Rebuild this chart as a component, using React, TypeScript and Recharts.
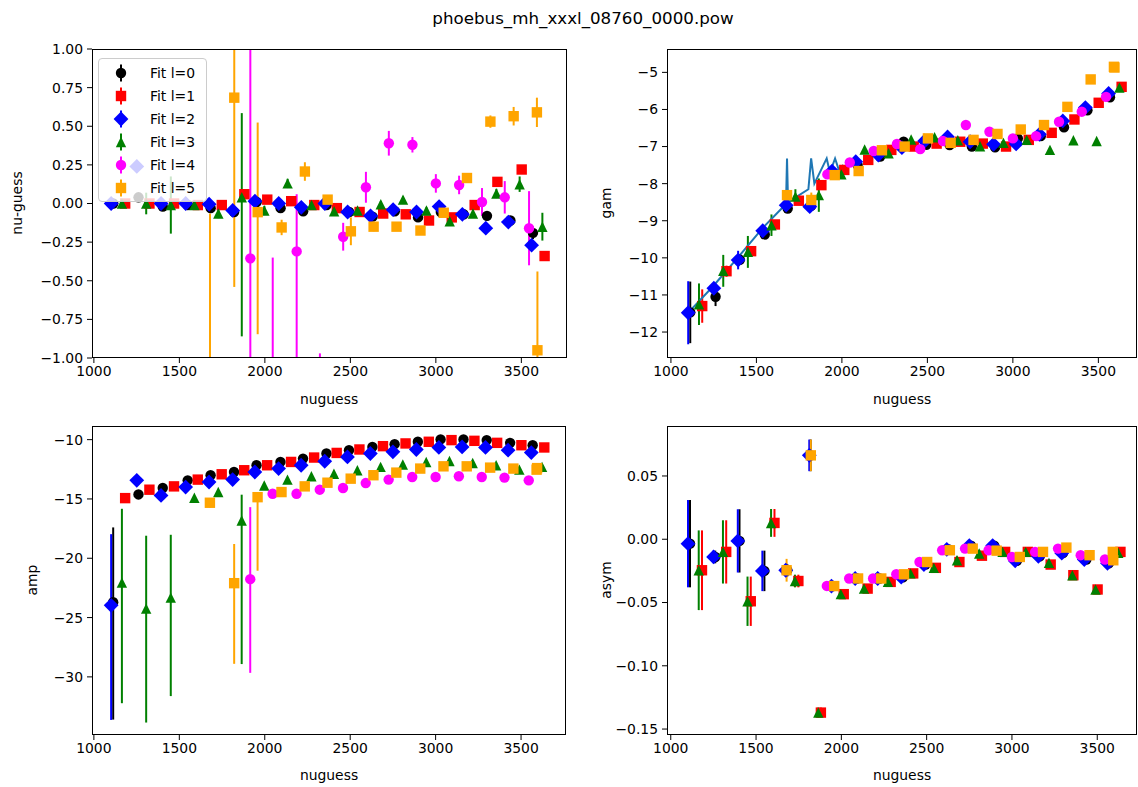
import React from 'react';
import { ScatterChart, Scatter, XAxis, YAxis, ErrorBar } from 'recharts';

const FONT = '"DejaVu Sans", sans-serif';

// nuguess of each fitted mode, one list per degree l
const nuL0 = [1113, 1261, 1403, 1549, 1683, 1820, 1952, 2092, 2224, 2361, 2493, 2630, 2760, 2896, 3029, 3163, 3299, 3436, 3568];
const nuL1 = [1183, 1325, 1469, 1608, 1748, 1880, 2014, 2154, 2289, 2421, 2554, 2692, 2824, 2960, 3093, 3227, 3360, 3502, 3636];
const nuL2 = [1101, 1251, 1393, 1537, 1674, 1812, 1942, 2081, 2213, 2351, 2484, 2618, 2750, 2887, 3019, 3155, 3292, 3424, 3560];
const nuL3 = [1164, 1306, 1450, 1588, 1728, 1865, 1997, 2133, 2273, 2405, 2542, 2678, 2808, 2945, 3081, 3217, 3354, 3490, 3623];
const nuL4 = [1915, 2046, 2186, 2322, 2458, 2591, 2725, 2863, 3000, 3136, 3270, 3403, 3545];
const nuL5 = [1679, 1821, 1958, 2098, 2234, 2367, 2503, 2636, 2770, 2910, 3046, 3182, 3319, 3455, 3591, 3594];

// nu - guess
const dnuL0 = [0.0, 0.04, -0.02, -0.01, -0.03, -0.055, 0.01, -0.03, -0.05, -0.01, -0.055, -0.085, -0.05, -0.09, -0.055, -0.07, -0.08, -0.11, -0.19];
const dnuErrL0 = [0.02, 0.02, 0.01, 0.01, 0.01, 0.01, 0.01, 0.01, 0.01, 0.01, 0.01, 0.01, 0.01, 0.01, 0.01, 0.01, 0.01, 0.02, 0.04];
const dnuL1 = [0.0, 0.0, 0.0, -0.01, -0.01, 0.06, 0.025, 0.015, -0.01, -0.03, -0.055, -0.065, -0.07, -0.11, -0.09, -0.01, 0.14, 0.22, -0.34];
const dnuErrL1 = [0.01, 0.01, 0.01, 0.01, 0.01, 0.03, 0.01, 0.02, 0.01, 0.01, 0.01, 0.01, 0.01, 0.01, 0.01, 0.02, 0.02, 0.02, 0.03];
const dnuL2 = [0.0, 0.24, 0.0, 0.0, -0.005, -0.045, 0.015, 0.0, -0.025, 0.0, -0.055, -0.08, -0.04, -0.055, -0.02, -0.07, -0.16, -0.12, -0.27];
const dnuErrL2 = [0.02, 0.01, 0.01, 0.01, 0.01, 0.01, 0.01, 0.01, 0.01, 0.01, 0.01, 0.01, 0.01, 0.01, 0.01, 0.01, 0.01, 0.01, 0.02];
const dnuL3 = [0.0, 0.0, -0.01, -0.01, -0.065, 0.04, -0.045, 0.13, -0.01, -0.05, -0.045, -0.005, 0.025, -0.045, -0.115, -0.065, 0.065, 0.125, -0.15];
const dnuErrL3 = [0.02, 0.07, 0.185, 0.02, 0.03, [0.9, 0.545], 0.03, 0.03, 0.02, 0.02, 0.02, 0.02, 0.02, 0.02, 0.02, 0.02, 0.03, 0.05, 0.09];
const dnuL4 = [-0.355, -1.5, -0.31, -1.6, -0.215, 0.105, 0.39, 0.38, 0.13, 0.12, 0.01, 0.04, -0.16];
const dnuErrL4 = [1.5, 1.15, [1.0, 0.37], 0.63, 0.09, 0.1, 0.08, 0.05, 0.06, 0.06, 0.09, 0.105, 0.24];
const dnuL5 = [-1.6, 0.685, -0.056, -0.155, 0.207, 0.025, -0.18, -0.15, -0.15, -0.175, -0.06, 0.165, 0.53, 0.565, 0.59, -0.95];
const dnuErrL5 = [1.535, 1.225, [0.79, 0.58], 0.05, 0.06, 0.03, 0.09, 0.03, 0.02, 0.02, 0.02, 0.02, 0.04, 0.06, 0.095, 0.51];

// gam
const gamL0 = [-11.47, -11.05, -10.05, -9.37, -8.67, -8.6, -7.75, -7.5, -7.27, -6.87, -6.95, -6.96, -7.0, -7.02, -6.78, -6.72, -6.48, -6.02, -5.67];
const gamErrL0 = [0.83, 0.25, 0.05, 0.05, 0.05, 0.05, 0.03, 0.03, 0.03, 0.03, 0.03, 0.03, 0.03, 0.03, 0.03, 0.03, 0.03, 0.03, 0.03];
const gamL1 = [-11.3, -10.36, -9.82, -9.1, -8.46, -8.04, -7.63, -7.36, -7.09, -7.0, -6.92, -6.87, -6.92, -7.0, -6.82, -6.63, -6.27, -5.82, -5.39];
const gamErrL1 = [0.45, 0.15, 0.1, 0.1, 0.05, 0.05, 0.03, 0.03, 0.03, 0.03, 0.03, 0.03, 0.03, 0.03, 0.03, 0.03, 0.03, 0.03, 0.03];
const gamL2 = [-11.48, -10.82, -10.06, -9.27, -8.58, -8.62, -7.66, -7.41, -7.23, -7.03, -6.85, -6.74, -6.87, -6.94, -6.93, -6.67, -6.31, -5.95, -5.57];
const gamErrL2 = [0.85, 0.1, 0.25, 0.05, 0.05, 0.1, 0.03, 0.03, 0.03, 0.03, 0.03, 0.03, 0.03, 0.03, 0.03, 0.03, 0.03, 0.03, 0.03];
const gamL3 = [-11.25, -10.35, -9.84, -9.12, -8.35, -8.31, -7.75, -7.08, -7.18, -6.81, -6.75, -6.83, -6.99, -6.9, -6.82, -7.09, -6.83, -6.85, -5.41];
const gamErrL3 = [0.56, 0.43, 0.43, 0.29, 0.2, 0.45, 0.05, 0.05, 0.03, 0.03, 0.03, 0.03, 0.03, 0.03, 0.03, 0.03, 0.03, 0.03, 0.03];
const gamL4 = [-7.75, -7.43, -7.12, -6.93, -7.07, -6.85, -6.42, -6.6, -6.78, -6.72, -6.33, -6.06, -5.66];
const gamErrL4 = [0.1, 0.05, 0.05, 0.03, 0.03, 0.03, 0.03, 0.03, 0.03, 0.03, 0.03, 0.03, 0.03];
const gamL5 = [-8.31, -8.44, -7.77, -7.66, -7.1, -7.0, -6.78, -6.9, -6.82, -6.66, -6.54, -6.42, -5.93, -5.19, -4.85, -4.87];
const gamErrL5 = [0.15, 0.2, 0.1, 0.1, 0.03, 0.03, 0.03, 0.03, 0.03, 0.03, 0.03, 0.03, 0.03, 0.03, 0.03, 0.03];

// guess curve drawn in the gam panel
const gamLineNu = [1107, 1244, 1390, 1536, 1673, 1679, 1685, 1804, 1820, 1839, 1911, 1930, 1960, 1980, 2009];
const gamLineVal = [-11.45, -10.78, -10.0, -9.2, -8.55, -7.32, -8.5, -8.15, -7.32, -8.0, -7.32, -7.7, -7.32, -7.6, -7.5];

// amp
const ampL0 = [-23.7, -14.62, -14.08, -13.43, -13.0, -12.73, -12.16, -11.88, -11.6, -11.17, -10.89, -10.61, -10.38, -10.18, -9.98, -9.98, -10.04, -10.27, -10.47];
const ampErrL0 = [[9.9, 6.3], 0.1, 0.1, 0.1, 0.1, 0.1, 0.1, 0.1, 0.1, 0.1, 0.1, 0.1, 0.1, 0.1, 0.1, 0.1, 0.1, 0.1, 0.1];
const ampL1 = [-14.93, -14.22, -13.94, -13.37, -12.92, -12.58, -12.16, -11.88, -11.51, -11.12, -10.83, -10.55, -10.32, -10.18, -10.04, -10.1, -10.27, -10.47, -10.66];
const ampErrL1 = [0.2, 0.1, 0.1, 0.1, 0.1, 0.1, 0.1, 0.1, 0.1, 0.1, 0.1, 0.1, 0.1, 0.1, 0.1, 0.1, 0.1, 0.1, 0.1];
const ampL2 = [-23.97, -13.43, -14.7, -14.0, -13.57, -13.37, -12.73, -12.44, -12.16, -11.82, -11.46, -11.17, -11.03, -10.83, -10.66, -10.61, -10.66, -10.89, -11.09];
const ampErrL2 = [[9.66, 6.0], 0.1, 0.1, 0.1, 0.1, 0.1, 0.1, 0.1, 0.1, 0.1, 0.1, 0.1, 0.1, 0.1, 0.1, 0.1, 0.1, 0.1, 0.1];
const ampL3 = [-22.05, -24.25, -23.32, -14.9, -14.42, -16.82, -13.86, -13.37, -13.09, -12.87, -12.58, -12.3, -12.1, -11.88, -11.8, -11.97, -12.16, -12.53, -12.3];
const ampErrL3 = [[10.17, 6.22], [9.6, 6.15], [8.3, 5.3], 0.1, 0.1, [12.1, 2.18], 0.1, 0.1, 0.1, 0.1, 0.1, 0.1, 0.1, 0.1, 0.1, 0.1, 0.1, 0.1, 0.1];
const ampL4 = [-21.76, -14.56, -14.56, -14.22, -14.08, -13.66, -13.37, -13.15, -13.15, -13.09, -13.15, -13.2, -13.43];
const ampErrL4 = [[7.9, 6.07], 0.1, 0.1, 0.1, 0.1, 0.1, 0.1, 0.1, 0.1, 0.1, 0.1, 0.1, 0.1];
const ampL5 = [-15.32, -22.1, -14.85, -14.42, -13.94, -13.63, -13.29, -13.0, -12.78, -12.44, -12.25, -12.25, -12.36, -12.44, -12.53, -12.4];
const ampErrL5 = [0.4, [6.8, 3.3], [6.2, 0.3], 0.1, 0.1, 0.1, 0.1, 0.1, 0.1, 0.1, 0.1, 0.1, 0.1, 0.1, 0.1, 0.1];

// asym
const asymL0 = [-0.0035, -0.014, -0.0013, -0.025, -0.0245, 0.0663, -0.037, -0.031, -0.031, -0.03, -0.02, -0.008, -0.005, -0.005, -0.017, -0.0135, -0.011, -0.016, -0.019];
const asymErrL0 = [0.0345, 0.005, 0.025, 0.016, 0.005, 0.0125, 0.003, 0.003, 0.003, 0.003, 0.003, 0.003, 0.003, 0.003, 0.003, 0.003, 0.003, 0.003, 0.003];
const asymL1 = [-0.0245, -0.01, -0.049, 0.0129, -0.033, -0.137, -0.0434, -0.039, -0.0337, -0.027, -0.0226, -0.018, -0.013, -0.01, -0.01, -0.02, -0.0284, -0.0397, -0.01];
const asymErrL1 = [0.0315, 0.025, 0.0195, 0.011, 0.005, 0.004, 0.003, 0.003, 0.003, 0.003, 0.003, 0.003, 0.003, 0.003, 0.003, 0.003, 0.003, 0.003, 0.003];
const asymL2 = [-0.0035, -0.014, -0.0013, -0.025, -0.0245, 0.0663, -0.037, -0.031, -0.031, -0.03, -0.02, -0.008, -0.005, -0.005, -0.017, -0.0135, -0.011, -0.016, -0.019];
const asymErrL2 = [0.0345, 0.005, 0.025, 0.016, 0.005, 0.0125, 0.003, 0.003, 0.003, 0.003, 0.003, 0.003, 0.003, 0.003, 0.003, 0.003, 0.003, 0.003, 0.003];
const asymL3 = [-0.0245, -0.01, -0.049, 0.0129, -0.033, -0.137, -0.0434, -0.039, -0.0337, -0.027, -0.0226, -0.0166, -0.0113, -0.01, -0.01, -0.0187, -0.0284, -0.0397, -0.0108];
const asymErrL3 = [0.0315, 0.025, 0.0195, 0.011, 0.005, 0.004, 0.003, 0.003, 0.003, 0.003, 0.003, 0.003, 0.003, 0.003, 0.003, 0.003, 0.003, 0.003, 0.003];
const asymL4 = [-0.0369, -0.031, -0.031, -0.0277, -0.018, -0.0087, -0.0074, -0.0087, -0.014, -0.01, -0.0074, -0.0126, -0.016];
const asymErrL4 = [0.003, 0.003, 0.003, 0.003, 0.003, 0.003, 0.003, 0.003, 0.003, 0.003, 0.003, 0.003, 0.003];
const asymL5 = [-0.0245, 0.0663, -0.037, -0.031, -0.031, -0.0277, -0.018, -0.0087, -0.0074, -0.009, -0.014, -0.01, -0.0066, -0.0126, -0.01, -0.0166];
const asymErrL5 = [0.009, 0.0125, 0.003, 0.003, 0.003, 0.003, 0.003, 0.003, 0.003, 0.003, 0.003, 0.003, 0.003, 0.003, 0.003, 0.003];

const X_TICKS = [1000, 1500, 2000, 2500, 3000, 3500];
const LABELS = ['Fit l=0', 'Fit l=1', 'Fit l=2', 'Fit l=3', 'Fit l=4', 'Fit l=5'];
const COLORS = ['#000000', '#ff0000', '#0000ff', '#008000', '#ff00ff', '#ffa500'];
const KINDS = ['o', 's', 'D', '^', 'o', 's'];
const NU = [nuL0, nuL1, nuL2, nuL3, nuL4, nuL5];

type Err = number | number[];

const minus = (s: string) => s.replace('-', '\u2212');
const fmt2 = (v: number) => minus(v.toFixed(2));
const fmt0 = (v: number) => minus(String(v));

function Marker({ kind, cx, cy, fill }: { kind: string; cx: number; cy: number; fill: string }) {
    if (cx == null || cy == null) return <g />;
    if (kind === 'o') return <circle cx={cx} cy={cy} r={5.2} fill={fill} />;
    if (kind === 's') return <rect x={cx - 5.2} y={cy - 5.2} width={10.4} height={10.4} fill={fill} />;
    if (kind === 'D') {
        return <polygon points={`${cx},${cy - 7.4} ${cx + 7.4},${cy} ${cx},${cy + 7.4} ${cx - 7.4},${cy}`} fill={fill} />;
    }
    return <polygon points={`${cx},${cy - 5.2} ${cx + 5.2},${cy + 5.2} ${cx - 5.2},${cy + 5.2}`} fill={fill} />;
}

// error bars are not clipped by the chart, so cut them at the axis limits
function buildPoints(xs: number[], ys: number[], es: Err[], dom: [number, number]) {
    return xs.map((x, i) => {
        const y = ys[i];
        const e = es[i];
        const [lo, hi] = Array.isArray(e) ? e : [e, e];
        const bottom = Math.max(y - lo, dom[0]);
        const top = Math.min(y + hi, dom[1]);
        const err = bottom > top ? [0, 0] : [y - bottom, top - y];
        return { x, y, e: err };
    });
}

interface PanelProps {
    left: number;
    top: number;
    w: number;
    h: number;
    xDomain: [number, number];
    yDomain: [number, number];
    yTicks: number[];
    fmt: (v: number) => string;
    ys: number[][];
    errs: Err[][];
    line?: { x: number; y: number }[];
}

function Panel({ left, top, w, h, xDomain, yDomain, yTicks, fmt, ys, errs, line }: PanelProps) {
    const tick = { fill: '#000', fontSize: 13.9, fontFamily: FONT };
    return (
        <div style={{ position: 'absolute', left: left - 60, top: top - 10 }}>
            <ScatterChart width={w + 70} height={h + 40} margin={{ top: 10, right: 10, bottom: 0, left: 0 }}>
                <XAxis
                    type="number" dataKey="x" domain={xDomain} ticks={X_TICKS} allowDataOverflow interval={0}
                    axisLine={false} tickLine={{ stroke: '#000' }} tickSize={5} tickMargin={3} height={30} tick={tick}
                />
                <YAxis
                    type="number" dataKey="y" domain={yDomain} ticks={yTicks} allowDataOverflow interval={0}
                    axisLine={false} tickLine={{ stroke: '#000' }} tickSize={5} tickMargin={4} width={60} tick={tick}
                    tickFormatter={fmt}
                />
                {line && (
                    <Scatter
                        data={line} isAnimationActive={false}
                        line={{ stroke: '#1f77b4', strokeWidth: 2 }} shape={() => <g />}
                    />
                )}
                {ys.map((vals, l) => (
                    <Scatter
                        key={l}
                        data={buildPoints(NU[l], vals, errs[l], yDomain)}
                        isAnimationActive={false}
                        shape={(p: any) => <Marker kind={KINDS[l]} cx={p.cx} cy={p.cy} fill={COLORS[l]} />}
                    >
                        <ErrorBar dataKey="e" direction="y" width={0} stroke={COLORS[l]} strokeWidth={2} isAnimationActive={false} />
                    </Scatter>
                ))}
            </ScatterChart>
            <div
                style={{
                    position: 'absolute', left: 60, top: 10, width: w, height: h,
                    border: '1px solid #000', boxSizing: 'border-box', pointerEvents: 'none',
                }}
            />
        </div>
    );
}

function Legend() {
    return (
        <div
            style={{
                position: 'absolute', left: 98, top: 58, width: 109, height: 144, boxSizing: 'border-box',
                background: 'rgba(255,255,255,0.8)', border: '1px solid #cccccc', borderRadius: 4,
            }}
        >
            {LABELS.map((label, i) => (
                <div key={label} style={{ position: 'absolute', left: 0, top: 13.5 + i * 23 - 12, height: 24, width: 108 }}>
                    <svg width={24} height={24} style={{ position: 'absolute', left: 10, top: 0 }}>
                        <line x1={12} y1={3.5} x2={12} y2={20.5} stroke={COLORS[i]} strokeWidth={2} />
                        <Marker kind={KINDS[i]} cx={12} cy={12} fill={COLORS[i]} />
                    </svg>
                    <span
                        style={{
                            position: 'absolute', left: 51, top: 4, fontSize: 13.9, lineHeight: '16px',
                            fontFamily: FONT, color: '#000', whiteSpace: 'nowrap',
                        }}
                    >
                        {label}
                    </span>
                </div>
            ))}
        </div>
    );
}

function Text({ x, y, children, size = 13.9, rotate = false }: { x: number; y: number; children: string; size?: number; rotate?: boolean }) {
    return (
        <div
            style={{
                position: 'absolute', left: x, top: y, fontFamily: FONT, fontSize: size, color: '#000',
                whiteSpace: 'nowrap', lineHeight: 1, transform: `translate(-50%, -50%)${rotate ? ' rotate(-90deg)' : ''}`,
            }}
        >
            {children}
        </div>
    );
}

export default function App() {
    const gamLine = gamLineNu.map((x, i) => ({ x, y: gamLineVal[i] }));
    return (
        <div style={{ position: 'absolute', left: 0, top: 0, width: 1138, height: 787, background: '#fff', overflow: 'hidden' }}>
            <Text x={583} y={18} size={16.7}>phoebus_mh_xxxl_08760_0000.pow</Text>

            <Panel
                left={92} top={49} w={475} h={309} xDomain={[989, 3767]} yDomain={[-1, 1]}
                yTicks={[-1, -0.75, -0.5, -0.25, 0, 0.25, 0.5, 0.75, 1]} fmt={fmt2}
                ys={[dnuL0, dnuL1, dnuL2, dnuL3, dnuL4, dnuL5]}
                errs={[dnuErrL0, dnuErrL1, dnuErrL2, dnuErrL3, dnuErrL4, dnuErrL5]}
            />
            <Panel
                left={667} top={49} w={470} h={309} xDomain={[977, 3726]} yDomain={[-12.7, -4.37]}
                yTicks={[-12, -11, -10, -9, -8, -7, -6, -5]} fmt={fmt0}
                ys={[gamL0, gamL1, gamL2, gamL3, gamL4, gamL5]}
                errs={[gamErrL0, gamErrL1, gamErrL2, gamErrL3, gamErrL4, gamErrL5]}
                line={gamLine}
            />
            <Panel
                left={92} top={426} w={474} h={309} xDomain={[989, 3763]} yDomain={[-34.9, -8.85]}
                yTicks={[-30, -25, -20, -15, -10]} fmt={fmt0}
                ys={[ampL0, ampL1, ampL2, ampL3, ampL4, ampL5]}
                errs={[ampErrL0, ampErrL1, ampErrL2, ampErrL3, ampErrL4, ampErrL5]}
            />
            <Panel
                left={667} top={426} w={470} h={309} xDomain={[978, 3733]} yDomain={[-0.1547, 0.0895]}
                yTicks={[-0.15, -0.1, -0.05, 0, 0.05]} fmt={fmt2}
                ys={[asymL0, asymL1, asymL2, asymL3, asymL4, asymL5]}
                errs={[asymErrL0, asymErrL1, asymErrL2, asymErrL3, asymErrL4, asymErrL5]}
            />

            <Legend />

            <Text x={18} y={203} rotate>nu-guess</Text>
            <Text x={607} y={203} rotate>gam</Text>
            <Text x={33} y={580} rotate>amp</Text>
            <Text x={607} y={580} rotate>asym</Text>
            <Text x={329} y={400}>nuguess</Text>
            <Text x={902} y={400}>nuguess</Text>
            <Text x={329} y={776}>nuguess</Text>
            <Text x={902} y={776}>nuguess</Text>
        </div>
    );
}
